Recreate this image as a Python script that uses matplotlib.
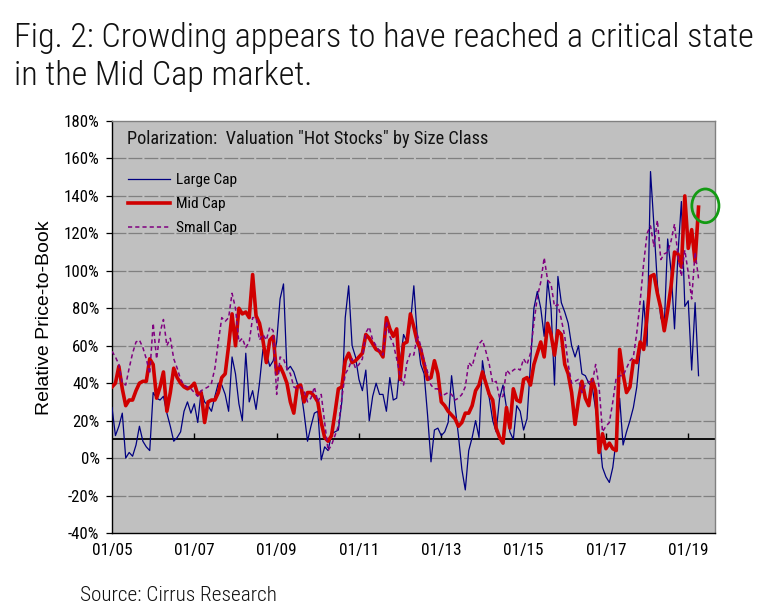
import numpy as np
import matplotlib
matplotlib.use('Agg')
import matplotlib.pyplot as plt
from matplotlib import font_manager
from matplotlib.font_manager import FontProperties
from matplotlib.patches import Ellipse

# ---------------- data (monthly, Jan 2005 onwards, in %) ----------------
large_cap = [27, 12, 17, 24, 0, 3, 1, 7, 17, 9, 6, 4,
             35, 32, 31, 33, 24, 17, 9, 11, 14, 25, 30, 24,
             29, 19, 36, 30, 28, 25, 33, 40, 39, 34, 25, 54,
             45, 29, 20, 56, 30, 36, 26, 40, 58, 56, 49, 52,
             62, 85, 93, 47, 49, 46, 40, 37, 24, 9, 17, 24,
             25, -1, 6, 4, 13, 14, 15, 30, 75, 92, 60, 54,
             42, 36, 47, 20, 33, 40, 34, 34, 25, 43, 31, 32,
             51, 66, 62, 72, 92, 65, 50, 45, 23, -2, 15, 16,
             12, 14, 19, 44, 28, 12, -6, -17, 4, 11, 20, 11,
             52, 40, 32, 20, 14, 32, 39, 27, 14, 10, 28, 25,
             15, 21, 50, 80, 89, 80, 65, 95, 80, 39, 97, 83,
             78, 72, 60, 54, 60, 45, 44, 40, 38, 26, 13, -5,
             -10, -13, -5, 10, 32, 7, 14, 20, 27, 38, 58, 84,
             60, 153, 124, 93, 75, 70, 117, 100, 69, 109, 137, 81,
             84, 47, 83, 44]

mid_cap = [38, 40, 49, 37, 28, 31, 31, 36, 40, 41, 41, 53,
           50, 32, 38, 46, 25, 35, 48, 43, 40, 38, 37, 38,
           40, 34, 35, 19, 30, 31, 31, 35, 43, 45, 60, 77,
           60, 80, 77, 78, 75, 98, 76, 72, 63, 51, 63, 65,
           45, 49, 45, 40, 30, 24, 38, 39, 30, 35, 35, 33,
           30, 19, 11, 9, 12, 24, 37, 38, 52, 56, 51, 52,
           54, 56, 66, 64, 61, 58, 57, 54, 75, 69, 65, 69,
           42, 61, 62, 77, 70, 62, 58, 50, 42, 43, 52, 45,
           30, 28, 25, 23, 21, 17, 19, 24, 24, 28, 36, 39,
           46, 40, 34, 31, 16, 11, 8, 27, 16, 37, 31, 30,
           42, 43, 39, 50, 56, 62, 54, 72, 66, 55, 68, 66,
           50, 45, 35, 18, 31, 41, 32, 28, 42, 36, 3, 13,
           5, 8, 5, 4, 58, 45, 35, 38, 52, 51, 62, 58,
           76, 97, 98, 88, 80, 68, 79, 92, 110, 109, 102, 140,
           112, 122, 105, 134]

small_cap = [57, 54, 50, 40, 39, 48, 56, 62, 63, 59, 53, 45,
             72, 53, 67, 74, 60, 64, 53, 48, 42, 39, 38, 37,
             35, 33, 36, 37, 38, 40, 48, 62, 75, 73, 75, 88,
             80, 62, 64, 59, 62, 75, 75, 63, 66, 63, 70, 68,
             34, 54, 53, 48, 45, 38, 37, 38, 36, 30, 32, 38,
             30, 34, 19, 4, 7, 12, 17, 32, 45, 48, 53, 48,
             50, 53, 67, 70, 63, 60, 57, 55, 73, 65, 61, 53,
             44, 39, 51, 56, 55, 66, 60, 52, 46, 39, 37, 37,
             33, 34, 35, 34, 31, 32, 34, 38, 51, 49, 56, 61,
             63, 57, 50, 40, 41, 32, 33, 47, 45, 47, 48, 47,
             53, 50, 56, 72, 86, 94, 107, 95, 93, 81, 82, 74,
             65, 50, 40, 41, 42, 35, 39, 41, 40, 50, 38, 14,
             17, 19, 30, 43, 44, 44, 48, 52, 54, 67, 84, 104,
             120, 124, 113, 127, 106, 109, 110, 116, 125, 108, 97, 111,
             99, 85, 110, 96]

series_names = ['Large Cap', 'Mid Cap', 'Small Cap']
x_tick_labels = ['01/05', '01/07', '01/09', '01/11', '01/13', '01/15', '01/17', '01/19']
months_per_tick = 24
y_ticks = list(range(-40, 181, 20))
reference_level = 10

title_lines = ['Fig. 2: Crowding appears to have reached a critical state',
               'in the Mid Cap market.']
chart_title = 'Polarization:  Valuation "Hot Stocks" by Size Class'
y_label = 'Relative Price-to-Book'
source_text = 'Source: Cirrus Research'

# ---------------- fonts ----------------
names = {f.name for f in font_manager.fontManager.ttflist}
REG = 'Liberation Sans' if 'Liberation Sans' in names else 'DejaVu Sans'


def _weight(f):
    w = f.weight
    try:
        return int(w)
    except (TypeError, ValueError):
        s = str(w).lower()
        table = {'thin': 100, 'extralight': 200, 'ultralight': 200, 'light': 300,
                 'normal': 400, 'regular': 400, 'book': 400, 'medium': 500,
                 'semibold': 600, 'demibold': 600, 'bold': 700, 'heavy': 800, 'black': 900}
        return table.get(s, 400)


prio = ['liberation sans narrow', 'arial narrow', 'roboto condensed', 'open sans condensed',
        'dejavu sans condensed', 'dejavu sans']


def find_narrow(wmin, wmax):
    best = None
    for f in font_manager.fontManager.ttflist:
        nm = f.name.lower()
        st = str(f.stretch).lower()
        is_narrow = ('narrow' in nm or 'condensed' in nm or 'condensed' in st)
        if not is_narrow or f.style != 'normal' or 'mono' in nm or 'serif' in nm:
            continue
        w = _weight(f)
        if not (wmin <= w <= wmax):
            continue
        rank = next((i for i, p in enumerate(prio) if nm.startswith(p)), len(prio))
        if best is None or rank < best[0]:
            best = (rank, f.fname)
    return best


b_reg = find_narrow(350, 500)
b_light = find_narrow(250, 349)
narrow_fp = FontProperties(fname=b_reg[1]) if b_reg else FontProperties(family=REG)
if b_light:
    title_fp = FontProperties(fname=b_light[1])
else:
    title_fp = narrow_fp.copy()

plt.rcParams['lines.scale_dashes'] = False

# ---------------- figure ----------------
W, H = 781, 607
fig = plt.figure(figsize=(W / 100, H / 100), dpi=100)
ax = fig.add_axes([112 / W, 1 - 533 / H, (715 - 112) / W, (533 - 121) / H])
ax.set_facecolor('#C0C0C0')

x = np.arange(len(mid_cap))
xticks = np.arange(len(x_tick_labels)) * months_per_tick
ax.set_xlim(0, 175.8)
ax.set_ylim(y_ticks[0], y_ticks[-1])

for yv in y_ticks[1:-1]:
    ax.axhline(yv, color='#808080', lw=0.9, dashes=(10, 1.5), zorder=1)
ax.axhline(reference_level, color='black', lw=1.3, zorder=2)
ax.vlines(xticks[1:], reference_level, reference_level + 3.2, color='black', lw=1.0, zorder=2)

l1, = ax.plot(x, large_cap, color='#000080', lw=0.9, zorder=3, label=series_names[0])
l2, = ax.plot(x, mid_cap, color='#D00000', lw=2.6, zorder=4, label=series_names[1],
              solid_joinstyle='round')
l3, = ax.plot(x, small_cap, color='#800080', lw=1.1, dashes=(3, 2.2), zorder=5,
              label=series_names[2])

ax.set_xticks(xticks)
xt = ax.set_xticklabels(x_tick_labels, fontproperties=narrow_fp)
ax.tick_params(axis='x', length=0, pad=7)
ax.set_yticks(y_ticks)
yt = ax.set_yticklabels([f'{v}%' for v in y_ticks], fontproperties=narrow_fp)
ax.tick_params(axis='y', length=4, width=0.9, direction='out', pad=5, color='black')

for side in ['left', 'bottom']:
    ax.spines[side].set_color('black')
    ax.spines[side].set_linewidth(1.0)
for side in ['top', 'right']:
    ax.spines[side].set_color('#808080')
    ax.spines[side].set_linewidth(1.0)

leg = ax.legend(handles=[l1, l2, l3], loc='upper left', bbox_to_anchor=(0.0265, 0.874),
                frameon=False, prop=narrow_fp, handlelength=3.0,
                handletextpad=0.45, labelspacing=0.72, borderaxespad=0, borderpad=0)

ctitle = ax.text(0.025, 0.956, chart_title, transform=ax.transAxes, fontproperties=narrow_fp,
                 va='center', ha='left', color='#111111')

# hand-drawn style highlight around the latest Mid Cap value
ax.add_patch(Ellipse((len(mid_cap) - 1 + 2.0, mid_cap[-1] + 0.7), 7.9, 18,
                     fill=False, edgecolor='#139A13', lw=2.0, clip_on=False, zorder=6))

ylab = fig.text(45 / W, 1 - 318 / H, y_label, rotation=90, ha='center', va='center',
                fontfamily=REG, fontsize=12.5)

t1 = fig.text(14 / W, 1 - 47 / H, title_lines[0], fontproperties=title_fp,
              va='baseline', ha='left', color='#111111')
t2 = fig.text(14 / W, 1 - 85 / H, title_lines[1], fontproperties=title_fp,
              va='baseline', ha='left', color='#111111')

src = fig.text(80 / W, 1 - 601 / H, source_text, fontproperties=title_fp,
               va='baseline', ha='left', color='#111111')

# ---- fit text sizes to the widths measured on the reference ----
fig.canvas.draw()
renderer = fig.canvas.get_renderer()


def fit(texts, ref, target, horizontal=True):
    ext = ref.get_window_extent(renderer)
    cur = ext.width if horizontal else ext.height
    if cur > 0:
        k = target / cur
        for t in texts:
            t.set_fontsize(t.get_fontsize() * k)


fit([t1, t2], t1, 738)
fit([src], src, 197)
fit(xt, xt[0], 40)
fit(yt, yt[-1], 35)
fit(leg.get_texts(), leg.get_texts()[0], 61)
fit([ctitle], ctitle, 360)
fit([ylab], ylab, 194, horizontal=False)

fig.savefig('out.png', dpi=100)
